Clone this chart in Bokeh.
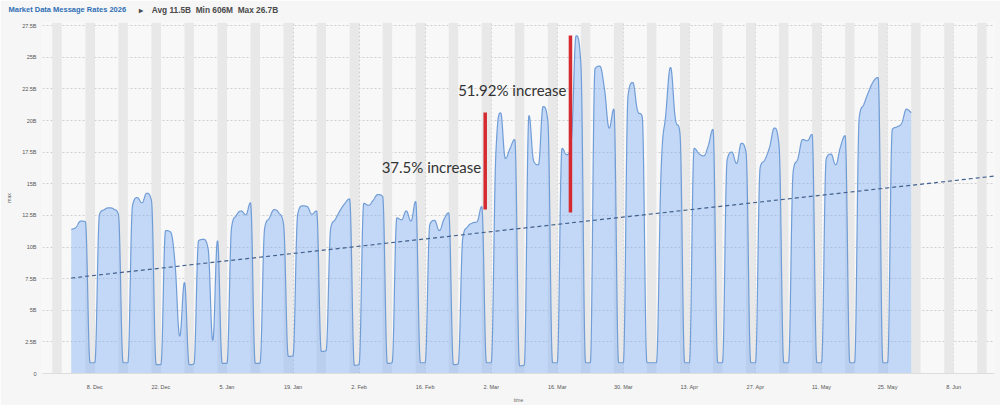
import numpy as np
from datetime import datetime, timedelta
from bokeh.plotting import figure
from bokeh.models import FixedTicker, Label, Range1d
from bokeh.embed import file_html
from bokeh.resources import INLINE

# ---- data -------------------------------------------------------------
SERIES_START = datetime(2025, 12, 3)          # one value per calendar day
# daily maximum message rate, billions of messages
rates = [
    11.4, 11.55, 12.05, 12.0, 0.85, 0.85,
    12.6, 12.95, 13.1, 13.0, 12.6, 0.85, 0.85,
    13.3, 13.9, 13.5, 14.25, 13.7, 0.7, 0.7,
    11.3, 11.2, 8.7, 2.95, 7.2, 0.7, 0.75,
    10.5, 10.6, 9.9, 2.6, 10.5, 0.8, 0.8,
    11.6, 12.5, 12.85, 12.55, 13.5, 0.8, 0.8,
    11.5, 12.3, 12.95, 12.7, 11.8, 1.35, 1.4,
    12.6, 13.25, 13.2, 12.6, 12.85, 1.75, 1.8,
    11.5, 12.2, 12.9, 13.45, 13.8, 0.65, 0.7,
    13.45, 13.3, 13.7, 14.15, 14.0, 0.8, 0.85,
    12.3, 12.15, 12.85, 12.05, 13.6, 0.85, 0.85,
    11.8, 12.1, 11.3, 12.2, 12.7, 0.7, 0.75,
    10.8, 11.6, 11.9, 12.0, 13.2, 0.85, 0.85,
    17.5, 20.6, 17.0, 17.8, 18.5, 0.61, 0.65,
    20.4, 16.8, 16.5, 21.1, 20.0, 0.85, 0.85,
    17.8, 17.3, 18.5, 26.7, 24.5, 0.85, 0.85,
    24.1, 24.3, 22.5, 19.4, 20.9, 0.85, 0.85,
    22.0, 23.0, 20.8, 20.3, 0.85, 0.85, 0.85,
    16.0, 20.5, 24.2, 20.2, 19.0, 0.85, 0.85,
    17.8, 17.4, 17.2, 18.0, 19.3, 0.85, 0.85,
    16.9, 17.5, 16.6, 18.2, 17.5, 0.85, 0.85,
    16.3, 16.9, 17.9, 19.4, 18.0, 0.85, 0.85,
    16.0, 17.0, 18.5, 18.4, 18.9, 0.85, 0.85,
    17.0, 17.35, 16.5, 17.9, 18.8, 0.85, 0.85,
    20.3, 21.3, 22.3, 23.1, 23.4, 0.85, 0.85,
    19.3, 19.5, 19.8, 20.9, 20.6,
]

# linear trend of the series (start / end of the fitted line)
trend_dates = [datetime(2025, 12, 3), datetime(2026, 6, 17)]
trend_values = [7.55, 15.62]

# highlighted jumps
jump_dates = [datetime(2026, 2, 28, 17, 30), datetime(2026, 3, 18, 19, 0)]
jump_low = [12.96, 12.73]
jump_high = [20.63, 26.72]
jump_text = ["37.5% increase", "51.92% increase"]
jump_text_y = [16.36, 22.45]

y_ticks = [0, 2.5, 5, 7.5, 10, 12.5, 15, 17.5, 20, 22.5, 25, 27.5]
y_tick_labels = ["0", "2.5B", "5B", "7.5B", "10B", "12.5B", "15B",
                 "17.5B", "20B", "22.5B", "25B", "27.5B"]
x_tick_dates = [datetime(2025, 12, 8) + timedelta(days=14 * k) for k in range(14)]
x_tick_labels = ["8. Dec", "22. Dec", "5. Jan", "19. Jan", "2. Feb", "16. Feb",
                 "2. Mar", "16. Mar", "30. Mar", "13. Apr", "27. Apr", "11. May",
                 "25. May", "8. Jun"]

NB = "\u00a0"
title_text = "Market Data Message Rates 2026"
stats_text = ("\u25b8" + NB * 4 + "Avg 11.5B" + NB * 2 + "Min 606M" + NB * 2 + "Max 26.7B")

X_START = datetime(2025, 11, 26, 22, 0)
X_END = datetime(2026, 6, 16, 15, 40)
Y_MAX = 27.75


def ms(d):
    return (d - datetime(1970, 1, 1)).total_seconds() * 1000.0


def spline(xs, ys, smoothing=1.5, steps=18):
    """Cubic curve through every point, control points as in an areaspline."""
    xs = np.asarray(xs, float)
    ys = np.asarray(ys, float)
    n = len(xs)
    lcx, lcy, rcx, rcy = xs.copy(), ys.copy(), xs.copy(), ys.copy()
    den = smoothing + 1
    for i in range(1, n - 1):
        px, py = xs[i], ys[i]
        lx, ly = xs[i - 1], ys[i - 1]
        nx, ny = xs[i + 1], ys[i + 1]
        a = (smoothing * px + lx) / den
        b = (smoothing * py + ly) / den
        c = (smoothing * px + nx) / den
        d = (smoothing * py + ny) / den
        corr = ((d - b) * (c - px)) / (c - a) + py - d if c != a else 0.0
        b += corr
        d += corr
        if b > ly and b > py:
            b = max(ly, py); d = 2 * py - b
        elif b < ly and b < py:
            b = min(ly, py); d = 2 * py - b
        if d > ny and d > py:
            d = max(ny, py); b = 2 * py - d
        elif d < ny and d < py:
            d = min(ny, py); b = 2 * py - d
        lcx[i], lcy[i], rcx[i], rcy[i] = a, b, c, d
    t = np.linspace(0, 1, steps, endpoint=False)
    mt = 1 - t
    bx, by = [], []
    for i in range(n - 1):
        bx.append(mt**3 * xs[i] + 3 * mt**2 * t * rcx[i] + 3 * mt * t**2 * lcx[i + 1] + t**3 * xs[i + 1])
        by.append(mt**3 * ys[i] + 3 * mt**2 * t * rcy[i] + 3 * mt * t**2 * lcy[i + 1] + t**3 * ys[i + 1])
    bx.append([xs[-1]])
    by.append([ys[-1]])
    return np.concatenate(bx), np.concatenate(by)


day_x = [ms(SERIES_START + timedelta(days=i)) for i in range(len(rates))]
curve_x, curve_y = spline(day_x, rates)

# weekend shading (Saturday + Sunday)
sat = datetime(2025, 11, 29)
band_left, band_right = [], []
while sat < X_END:
    band_left.append(ms(sat))
    band_right.append(ms(sat + timedelta(days=2)))
    sat += timedelta(days=7)

# ---- figure -----------------------------------------------------------
p = figure(width=1000, height=405, x_axis_type="datetime",
           x_range=Range1d(ms(X_START), ms(X_END)), y_range=Range1d(0, Y_MAX),
           output_backend="svg", toolbar_location=None,
           min_border_left=42, min_border_right=6, min_border_top=22, min_border_bottom=31,
           background_fill_color="#f8f8f8", border_fill_color="#f6f6f6",
           outline_line_color=None)
p.title_location = None

p.quad(left=band_left, right=band_right, bottom=0, top=Y_MAX,
       fill_color="#e8e8e8", line_color=None)

p.varea(x=curve_x, y1=0, y2=curve_y, fill_color="#7aacf2", fill_alpha=0.42)
p.line(curve_x, curve_y, line_color="#719dd7", line_width=1.2)

p.line([ms(d) for d in trend_dates], trend_values, line_color="#42618e",
       line_width=1.2, line_dash="4 3")

jx = [ms(d) for d in jump_dates]
p.segment(x0=jx, y0=jump_low, x1=jx, y1=jump_high, line_color="#d42a30", line_width=3.5)
for x, y, txt in zip(jx, jump_text_y, jump_text):
    p.add_layout(Label(x=x, y=y, text=txt, x_offset=-4, text_align="right",
                       text_baseline="middle", text_font="Lato", text_font_size="15px",
                       text_color="#333333"))

# axes and grid
p.yaxis.ticker = FixedTicker(ticks=y_ticks)
p.yaxis.major_label_overrides = {float(v): s for v, s in zip(y_ticks, y_tick_labels)}
p.yaxis.axis_label = "max"
p.yaxis.axis_line_color = None
p.yaxis.major_label_standoff = 6
p.yaxis.axis_label_standoff = 7

xt = [ms(d) for d in x_tick_dates]
p.xaxis.ticker = FixedTicker(ticks=xt)
p.xaxis.major_label_overrides = {v: s for v, s in zip(xt, x_tick_labels)}
p.xaxis.axis_label = "time"
p.xaxis.axis_line_color = "#dddddd"
p.xaxis.major_label_standoff = 10
p.xaxis.axis_label_standoff = 4

for ax in (p.xaxis[0], p.yaxis[0]):
    ax.major_tick_line_color = None
    ax.minor_tick_line_color = None
    ax.major_tick_out = 0
    ax.major_tick_in = 0
    ax.minor_tick_out = 0
    ax.minor_tick_in = 0
    ax.major_label_text_font = "Liberation Sans"
    ax.major_label_text_font_size = "5.5px"
    ax.major_label_text_color = "#555555"
    ax.axis_label_text_font = "Liberation Sans"
    ax.axis_label_text_font_size = "5px"
    ax.axis_label_text_font_style = "normal"
    ax.axis_label_text_color = "#666666"

p.ygrid.ticker = FixedTicker(ticks=y_ticks)
p.ygrid.grid_line_color = "#cfcfcf"
p.ygrid.grid_line_dash = "2 2"
p.xgrid.ticker = FixedTicker(ticks=xt)
p.xgrid.grid_line_color = "#cfcfcf"
p.xgrid.grid_line_dash = "2 2"

# header line in the top margin (each label sits in its own strip above the frame;
# positions are measured from that strip's lower-left corner)
p.add_layout(Label(x=-34, y=13, x_units="screen", y_units="screen",
                   text=title_text, text_font="Liberation Sans",
                   text_font_style="bold", text_font_size="7.5px", text_color="#2f6fb5",
                   text_baseline="middle"), "above")
p.add_layout(Label(x=96, y=4, x_units="screen", y_units="screen",
                   text=stats_text, text_font="Liberation Sans",
                   text_font_style="bold", text_font_size="8.3px", text_color="#4a4a4a",
                   text_baseline="middle"), "above")

open("out.html", "w").write(file_html(p, INLINE))
